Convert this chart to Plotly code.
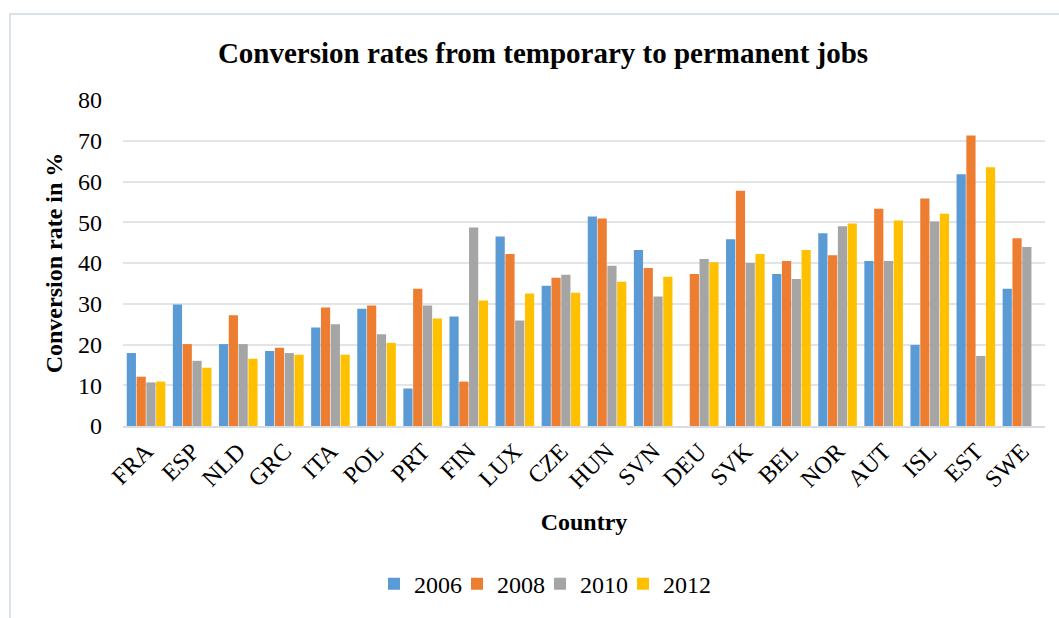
import plotly.graph_objects as go

countries = ["FRA", "ESP", "NLD", "GRC", "ITA", "POL", "PRT", "FIN", "LUX", "CZE",
             "HUN", "SVN", "DEU", "SVK", "BEL", "NOR", "AUT", "ISL", "EST", "SWE"]
years = ["2006", "2008", "2010", "2012"]
v2006 = [17.9, 29.8, 20.1, 18.4, 24.2, 28.8, 9.2, 26.9, 46.5, 34.4,
         51.4, 43.2, None, 45.8, 37.3, 47.3, 40.5, 19.9, 61.8, 33.7]
v2008 = [12.1, 20.1, 27.2, 19.2, 29.1, 29.6, 33.7, 10.9, 42.2, 36.4,
         50.9, 38.8, 37.3, 57.7, 40.5, 41.9, 53.3, 55.8, 71.3, 46.1]
v2010 = [10.7, 16.0, 20.1, 17.9, 25.0, 22.5, 29.6, 48.7, 25.9, 37.1,
         39.3, 31.8, 41.0, 40.0, 36.1, 49.0, 40.5, 50.2, 17.2, 43.9]
v2012 = [10.9, 14.3, 16.5, 17.5, 17.5, 20.4, 26.4, 30.8, 32.5, 32.7,
         35.4, 36.6, 40.2, 42.2, 43.2, 49.7, 50.4, 52.1, 63.5, None]
series = [v2006, v2008, v2010, v2012]
colors = ["#5B9BD5", "#ED7D31", "#A5A5A5", "#FFC000"]

FONT = "Liberation Serif"

fig = go.Figure()
for name, vals, col in zip(years, series, colors):
    fig.add_trace(go.Bar(x=countries, y=vals, name=name,
                         marker=dict(color=col, line=dict(width=0))))

# invisible spacer entry so the last legend label is not clipped
fig.add_trace(go.Scatter(x=[None], y=[None], mode="markers", name=" ",
                         marker=dict(color="rgba(0,0,0,0)"), hoverinfo="skip"))

W, H = 1059, 618
ml, mr, mt, mb = 123, 14, 100, 188
pw, ph = W - ml - mr, H - mt - mb

def px_x(p):
    return (p - ml) / pw

def px_y(p):
    return (H - mb - p) / ph

fig.update_layout(
    width=W, height=H,
    margin=dict(l=ml, r=mr, t=mt, b=mb),
    paper_bgcolor="white", plot_bgcolor="white",
    font=dict(family=FONT, color="black", size=24),
    barmode="group", bargap=0.15, bargroupgap=0.06,
    title=dict(text="<b>Conversion rates from temporary to permanent jobs</b>",
               x=543 / W, xanchor="center", y=1 - 53 / H, yanchor="middle",
               font=dict(family=FONT, size=29, color="black")),
    xaxis=dict(tickangle=-45, tickfont=dict(size=24), showgrid=False,
               showline=True, linecolor="#D9DDE3", linewidth=1.5,
               ticks="", title=dict(text="<b>Country</b>", font=dict(size=24), standoff=21)),
    yaxis=dict(range=[0, 80], dtick=10, showgrid=True, gridcolor="#E1E4E8", gridwidth=1.5,
               zeroline=False, ticks="", ticklabelstandoff=20, tickfont=dict(size=24),
               title=dict(text="<b>Conversion rate in %</b>", font=dict(size=24), standoff=8)),
    legend=dict(orientation="h", x=px_x(374), xanchor="left", y=px_y(590), yanchor="middle",
                font=dict(size=24), itemwidth=30, entrywidth=38, entrywidthmode="pixels",
                traceorder="normal", itemclick=False, itemdoubleclick=False),
    shapes=[dict(type="rect", xref="paper", yref="paper",
                 x0=px_x(10), x1=px_x(1070), y0=px_y(630), y1=px_y(13),
                 line=dict(color="#D9E1EA", width=2), fillcolor="rgba(0,0,0,0)", layer="below")],
)

fig.write_html("out.html")
